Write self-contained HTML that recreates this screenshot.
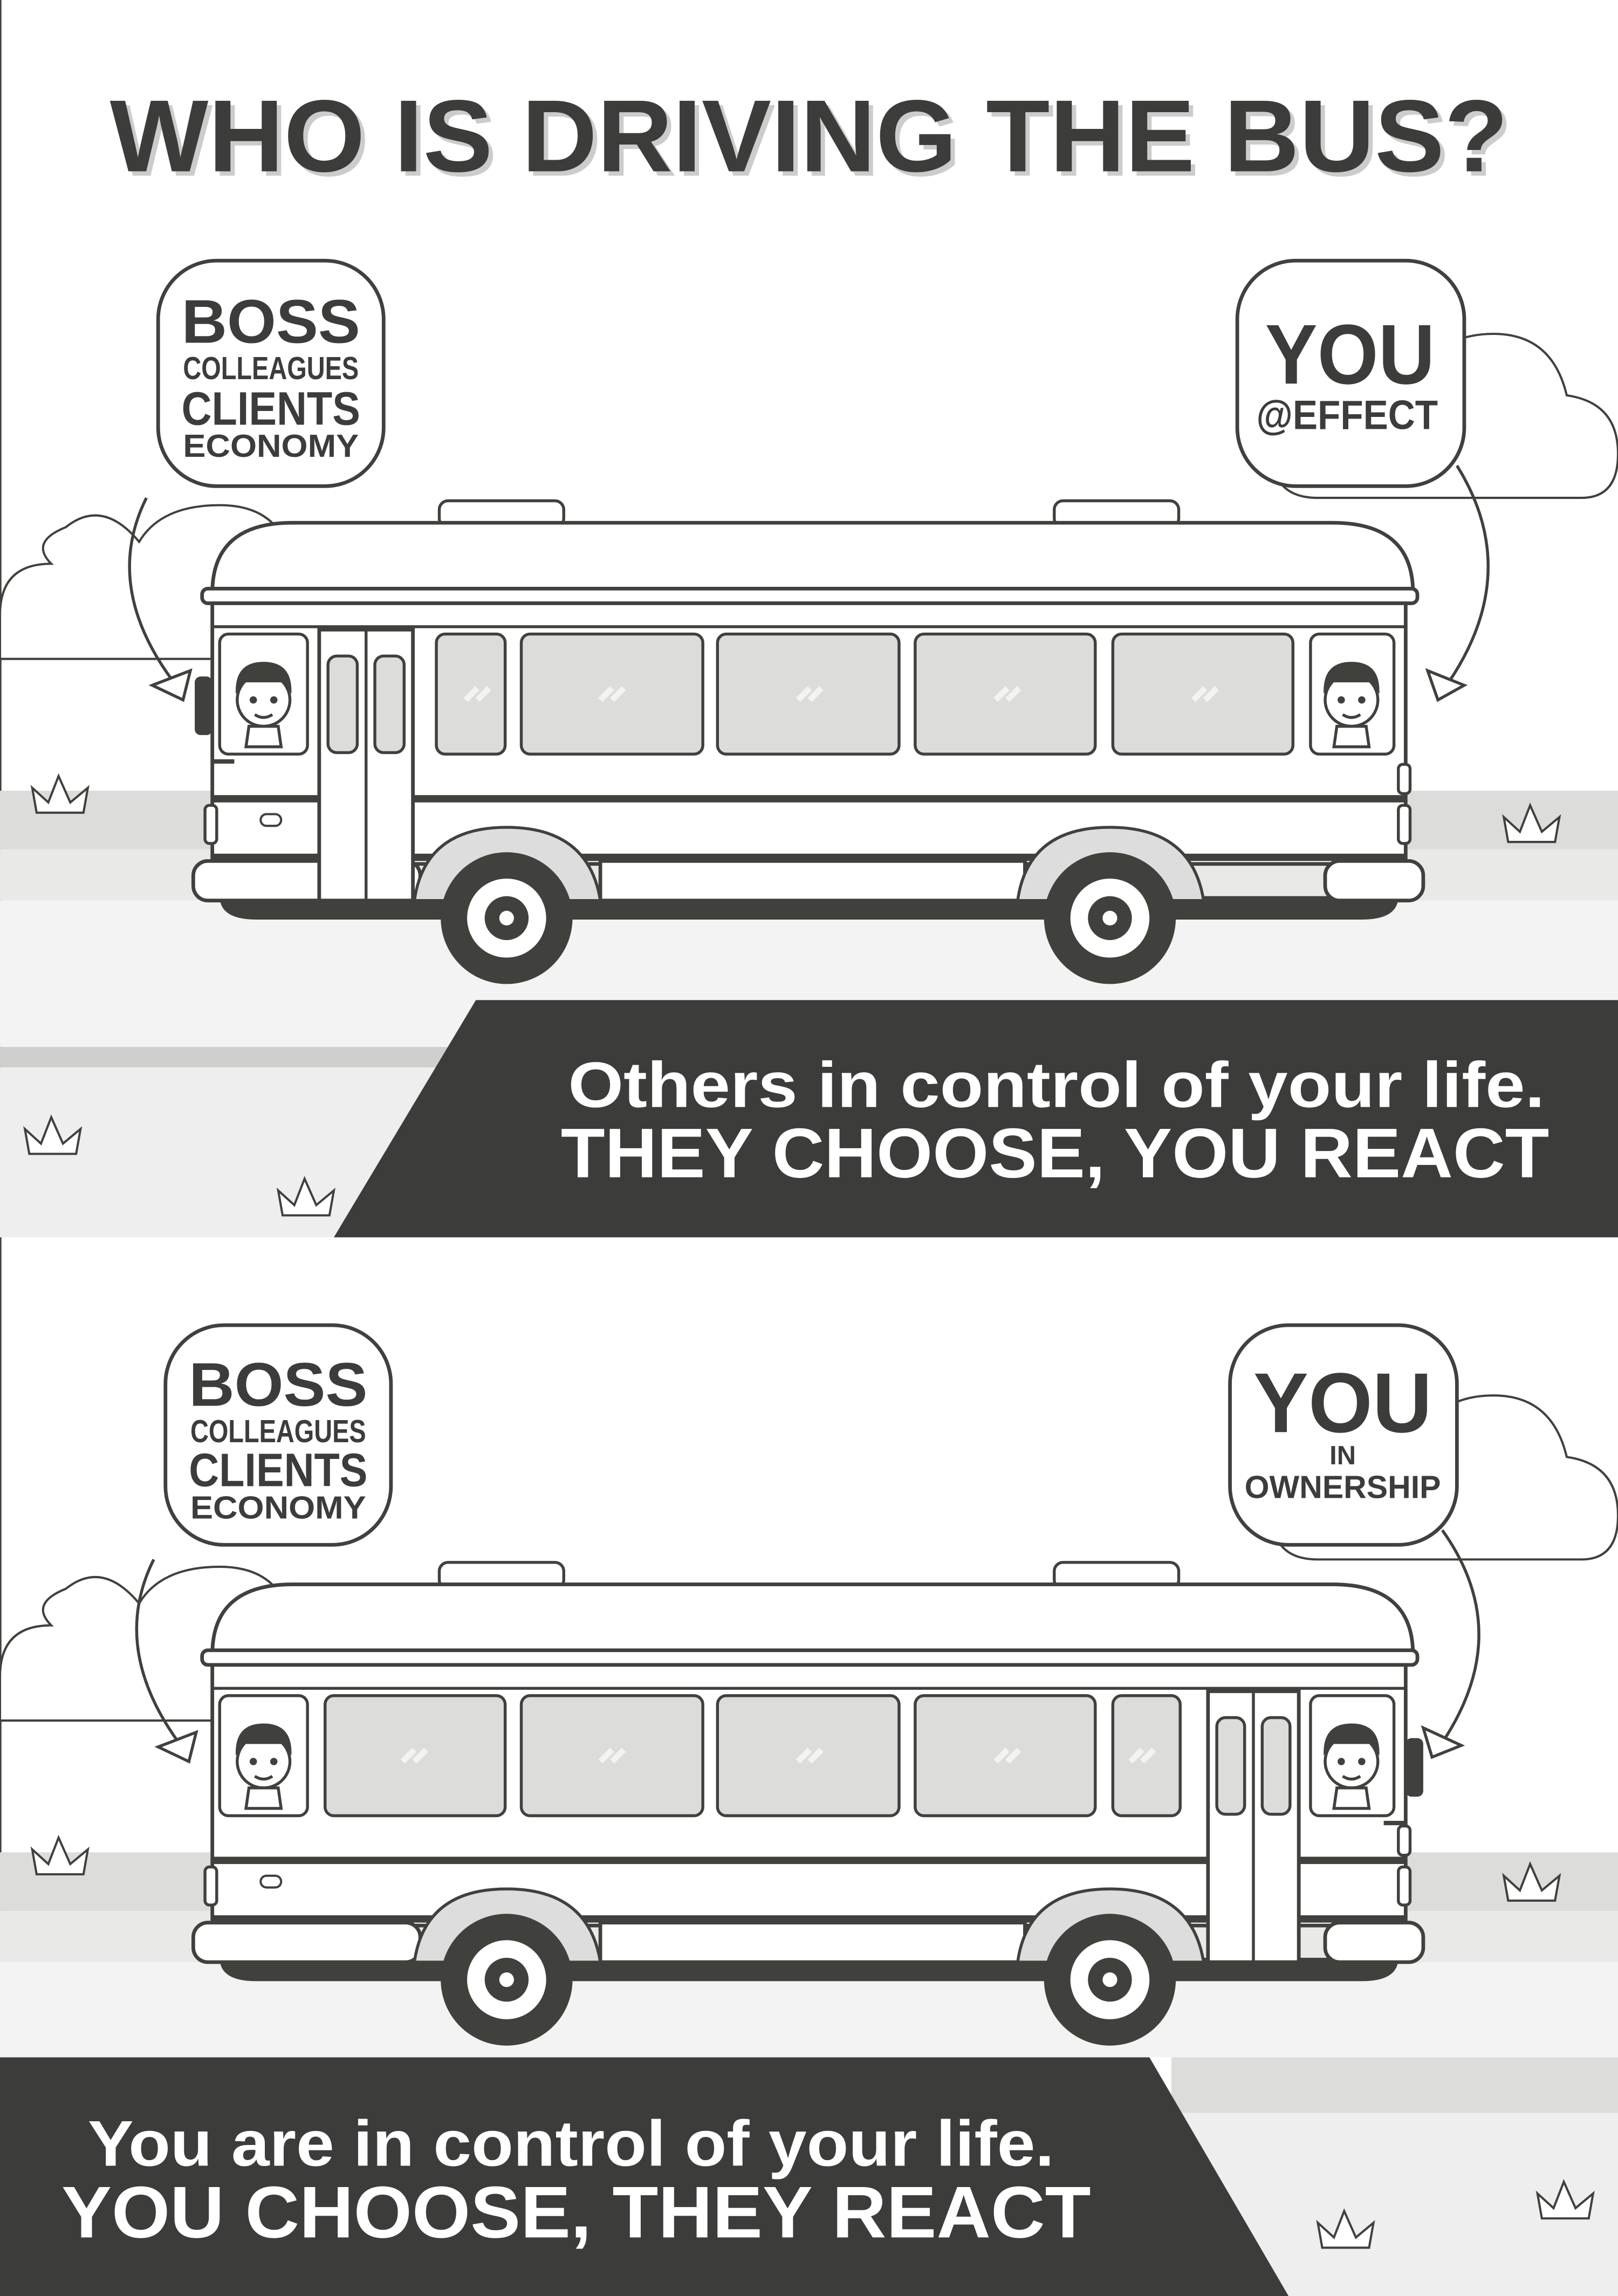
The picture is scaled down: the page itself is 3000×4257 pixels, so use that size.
<!DOCTYPE html>
<html><head><meta charset="utf-8"><style>html,body{margin:0;padding:0;background:#fff}svg{display:block}</style></head>
<body>
<svg width="3000" height="4257" viewBox="0 0 1105 1568" xmlns="http://www.w3.org/2000/svg" font-family="Liberation Sans, sans-serif">
<defs>
<g id="bus">
  <rect x="300" y="342" width="85" height="18" rx="6" fill="#fff" stroke="#40413c" stroke-width="2"/>
  <rect x="720" y="342" width="85" height="18" rx="6" fill="#fff" stroke="#40413c" stroke-width="2"/>
  <path d="M145 405 Q145 357 200 357 L910 357 Q965 357 965 405 Z" fill="#fff" stroke="#40413c" stroke-width="2.5"/>
  <rect x="138" y="402" width="830" height="10" rx="4" fill="#fff" stroke="#40413c" stroke-width="2.5"/>
  <rect x="145" y="412" width="815" height="178" fill="#fff" stroke="#40413c" stroke-width="2.5"/>
  <line x1="145" y1="428" x2="960" y2="428" stroke="#40413c" stroke-width="2"/>
  <rect x="145" y="543" width="815" height="5" fill="#40413c"/>
  <rect x="145" y="583" width="815" height="5" fill="#40413c"/>
  <path d="M150 612 L955 612 Q955 628 930 628 L175 628 Q150 628 150 612 Z" fill="#40413c"/>
  <rect x="132" y="588" width="155" height="27" rx="10" fill="#fff" stroke="#40413c" stroke-width="2.5"/>
  <rect x="905" y="588" width="67" height="27" rx="10" fill="#fff" stroke="#40413c" stroke-width="2.5"/>
  <rect x="410" y="588" width="290" height="27" fill="#fff" stroke="#40413c" stroke-width="2.5"/>
  <path d="M283 615 Q290 565 346 565 Q402 565 410 615 Z" fill="#ddd" stroke="#40413c" stroke-width="2"/>
  <path d="M695 615 Q702 565 758 565 Q814 565 822 615 Z" fill="#ddd" stroke="#40413c" stroke-width="2"/>
  <g fill="#40413c"><circle cx="346" cy="627" r="45"/><circle cx="758" cy="627" r="45"/></g>
  <g fill="#fff"><circle cx="346" cy="627" r="27"/><circle cx="758" cy="627" r="27"/></g>
  <g fill="#40413c"><circle cx="346" cy="627" r="15"/><circle cx="758" cy="627" r="15"/></g>
  <g fill="#fff"><circle cx="346" cy="627" r="5"/><circle cx="758" cy="627" r="5"/></g>
  <rect x="178" y="556" width="14" height="8" rx="4" fill="#fff" stroke="#40413c" stroke-width="1.5"/>
  <rect x="140" y="550" width="8" height="26" rx="3" fill="#fff" stroke="#40413c" stroke-width="2"/>
  <rect x="955" y="522" width="8" height="20" rx="3" fill="#fff" stroke="#40413c" stroke-width="2"/>
  <rect x="955" y="550" width="8" height="26" rx="3" fill="#fff" stroke="#40413c" stroke-width="2"/>
</g>
<g id="face">
  <circle cx="0" cy="0" r="18" fill="#fff" stroke="#40413c" stroke-width="2"/>
  <path d="M-19 -4 Q-20 -26 0 -26 Q20 -26 19 -4 L14 -12 L-14 -12 Z" fill="#40413c"/>
  <circle cx="-7" cy="0" r="2.5" fill="#40413c"/><circle cx="7" cy="0" r="2.5" fill="#40413c"/>
  <path d="M-6 10 Q0 14 6 10" fill="none" stroke="#40413c" stroke-width="2"/>
  <path d="M-12 32 L-10 18 L10 18 L12 32 Z" fill="#fff" stroke="#40413c" stroke-width="2"/>
</g>
</defs>

<rect x="0" y="0" width="1105" height="1568" fill="#fff"/>
<line x1="0.5" y1="0" x2="0.5" y2="1568" stroke="#40413c" stroke-width="1"/>

<rect x="0" y="540" width="1105" height="40" fill="#dcdcdb"/>
<rect x="0" y="580" width="1105" height="35" fill="#e9e9e8"/>
<rect x="0" y="615" width="1105" height="100" fill="#f3f3f3"/>
<rect x="0" y="715" width="1105" height="14" fill="#cfcfce"/>
<rect x="0" y="729" width="1105" height="116" fill="#eeeeee"/>
<path d="M0 450 L200 450 Q230 450 230 420 Q230 390 200 390 Q195 345 150 345 Q110 345 95 370 Q70 340 45 360 Q20 370 35 385 Q0 385 0 420 Z" fill="#fff" stroke="#40413c" stroke-width="1.5"/>
<path d="M900 340 L1080 340 Q1105 340 1105 310 Q1105 275 1070 270 Q1060 228 1020 228 Q985 228 970 255 Q945 240 920 255 Q895 270 900 290 Q860 295 870 320 Q875 340 900 340 Z" fill="#fff" stroke="#40413c" stroke-width="1.5"/>

<text x="78" y="120" font-size="70" font-weight="bold" fill="#ccc" textLength="955" lengthAdjust="spacingAndGlyphs">WHO IS DRIVING THE BUS?</text>
<text x="75" y="117" font-size="70" font-weight="bold" fill="#3c3d3a" textLength="955" lengthAdjust="spacingAndGlyphs">WHO IS DRIVING THE BUS?</text>

<use href="#bus"/>
<g fill="#dcdcdb" stroke="#40413c" stroke-width="2">
  <rect x="150" y="433" width="60" height="82" rx="6" fill="#fff"/>
  <rect x="298" y="433" width="47" height="82" rx="6"/>
  <rect x="356" y="433" width="124" height="82" rx="6"/>
  <rect x="490" y="433" width="124" height="82" rx="6"/>
  <rect x="625" y="433" width="123" height="82" rx="6"/>
  <rect x="760" y="433" width="123" height="82" rx="6"/>
  <rect x="895" y="433" width="57" height="82" rx="6" fill="#fff"/>
</g>
<rect x="218" y="430" width="64" height="185" fill="#fff" stroke="#40413c" stroke-width="2.5"/>
<line x1="250" y1="430" x2="250" y2="615" stroke="#40413c" stroke-width="2"/>
<rect x="224" y="448" width="20" height="66" rx="6" fill="#dcdcdb" stroke="#40413c" stroke-width="2"/>
<rect x="256" y="448" width="20" height="66" rx="6" fill="#dcdcdb" stroke="#40413c" stroke-width="2"/>
<g stroke="#f4f4ee" stroke-width="4"><path d="M318 478 l8 -8 M326 478 l8 -8 M410 478 l8 -8 M418 478 l8 -8 M545 478 l8 -8 M553 478 l8 -8 M680 478 l8 -8 M688 478 l8 -8 M815 478 l8 -8 M823 478 l8 -8"/></g>
<rect x="133" y="462" width="12" height="40" rx="4" fill="#40413c"/>
<line x1="145" y1="520" x2="160" y2="520" stroke="#40413c" stroke-width="3"/>
<use href="#face" x="180" y="478"/>
<use href="#face" x="923" y="478"/>

<path d="M100 340 Q70 400 118 465" fill="none" stroke="#40413c" stroke-width="2"/>
<path d="M104 468 L130 458 L125 478 Z" fill="#fff" stroke="#40413c" stroke-width="2"/>
<rect x="108" y="178" width="154" height="154" rx="40" fill="#fff" stroke="#40413c" stroke-width="2.5"/>
<g fill="#3c3d3a" font-weight="bold" text-anchor="middle">
<text x="185" y="234" font-size="42" textLength="122" lengthAdjust="spacingAndGlyphs">BOSS</text>
<text x="185" y="259" font-size="22" textLength="120" lengthAdjust="spacingAndGlyphs">COLLEAGUES</text>
<text x="185" y="290" font-size="32" textLength="122" lengthAdjust="spacingAndGlyphs">CLIENTS</text>
<text x="185" y="312" font-size="22" textLength="120" lengthAdjust="spacingAndGlyphs">ECONOMY</text>
</g>
<path d="M995 318 Q1040 390 990 465" fill="none" stroke="#40413c" stroke-width="2"/>
<path d="M1000 468 L975 458 L982 478 Z" fill="#fff" stroke="#40413c" stroke-width="2"/>
<rect x="845" y="178" width="155" height="154" rx="40" fill="#fff" stroke="#40413c" stroke-width="2.5"/>
<g fill="#3c3d3a" font-weight="bold" text-anchor="middle">
<text x="922" y="262" font-size="58" textLength="116" lengthAdjust="spacingAndGlyphs">YOU</text>
<text x="920" y="293" font-size="28" textLength="124" lengthAdjust="spacingAndGlyphs">@EFFECT</text>
</g>

<g fill="#fff" stroke="#40413c" stroke-width="1.5">
<path d="M25 555 L22 538 L33 548 L40 530 L48 548 L60 538 L57 555 Z"/>
<path d="M1030 575 L1027 558 L1038 568 L1045 550 L1053 568 L1065 558 L1062 575 Z"/>
<path d="M20 788 L17 771 L28 781 L35 763 L43 781 L55 771 L52 788 Z"/>
<path d="M193 830 L190 813 L201 823 L208 805 L216 823 L228 813 L225 830 Z"/>
</g>

<polygon points="325,683 1105,683 1105,845 228,845" fill="#3c3d3a"/>
<text x="388" y="756" font-size="44" font-weight="bold" fill="#fff" textLength="667" lengthAdjust="spacingAndGlyphs">Others in control of your life.</text>
<text x="383" y="804" font-size="48" font-weight="bold" fill="#fff" textLength="675" lengthAdjust="spacingAndGlyphs">THEY CHOOSE, YOU REACT</text>

<rect x="0" y="1265" width="1105" height="40" fill="#dcdcdb"/>
<rect x="0" y="1305" width="1105" height="35" fill="#e9e9e8"/>
<rect x="0" y="1340" width="1105" height="65" fill="#f3f3f3"/>
<rect x="800" y="1405" width="305" height="38" fill="#dcdcdb"/>
<rect x="800" y="1443" width="305" height="125" fill="#eeeeee"/>
<path d="M0 1175 L200 1175 Q230 1175 230 1145 Q230 1115 200 1115 Q195 1070 150 1070 Q110 1070 95 1095 Q70 1065 45 1085 Q20 1095 35 1110 Q0 1110 0 1145 Z" fill="#fff" stroke="#40413c" stroke-width="1.5"/>
<path d="M900 1065 L1080 1065 Q1105 1065 1105 1035 Q1105 1000 1070 995 Q1060 953 1020 953 Q985 953 970 980 Q945 965 920 980 Q895 995 900 1015 Q860 1020 870 1045 Q875 1065 900 1065 Z" fill="#fff" stroke="#40413c" stroke-width="1.5"/>

<g transform="translate(0,725)">
<use href="#bus"/>
<g fill="#dcdcdb" stroke="#40413c" stroke-width="2">
  <rect x="150" y="433" width="60" height="82" rx="6" fill="#fff"/>
  <rect x="222" y="433" width="123" height="82" rx="6"/>
  <rect x="356" y="433" width="124" height="82" rx="6"/>
  <rect x="490" y="433" width="124" height="82" rx="6"/>
  <rect x="625" y="433" width="123" height="82" rx="6"/>
  <rect x="760" y="433" width="46" height="82" rx="6"/>
  <rect x="895" y="433" width="57" height="82" rx="6" fill="#fff"/>
</g>
<rect x="825" y="430" width="62" height="185" fill="#fff" stroke="#40413c" stroke-width="2.5"/>
<line x1="856" y1="430" x2="856" y2="615" stroke="#40413c" stroke-width="2"/>
<rect x="831" y="448" width="19" height="66" rx="6" fill="#dcdcdb" stroke="#40413c" stroke-width="2"/>
<rect x="862" y="448" width="19" height="66" rx="6" fill="#dcdcdb" stroke="#40413c" stroke-width="2"/>
<g stroke="#f4f4ee" stroke-width="4"><path d="M275 478 l8 -8 M283 478 l8 -8 M410 478 l8 -8 M418 478 l8 -8 M545 478 l8 -8 M553 478 l8 -8 M680 478 l8 -8 M688 478 l8 -8 M772 478 l8 -8 M780 478 l8 -8"/></g>
<rect x="960" y="462" width="12" height="40" rx="4" fill="#40413c"/>
<line x1="945" y1="520" x2="960" y2="520" stroke="#40413c" stroke-width="3"/>
<use href="#face" x="180" y="478"/>
<use href="#face" x="923" y="478"/>
</g>

<path d="M105 1065 Q75 1125 122 1190" fill="none" stroke="#40413c" stroke-width="2"/>
<path d="M108 1193 L134 1183 L129 1203 Z" fill="#fff" stroke="#40413c" stroke-width="2"/>
<rect x="113" y="905" width="154" height="150" rx="40" fill="#fff" stroke="#40413c" stroke-width="2.5"/>
<g fill="#3c3d3a" font-weight="bold" text-anchor="middle">
<text x="190" y="960" font-size="42" textLength="122" lengthAdjust="spacingAndGlyphs">BOSS</text>
<text x="190" y="985" font-size="22" textLength="120" lengthAdjust="spacingAndGlyphs">COLLEAGUES</text>
<text x="190" y="1015" font-size="32" textLength="122" lengthAdjust="spacingAndGlyphs">CLIENTS</text>
<text x="190" y="1037" font-size="22" textLength="120" lengthAdjust="spacingAndGlyphs">ECONOMY</text>
</g>
<path d="M985 1045 Q1035 1115 985 1190" fill="none" stroke="#40413c" stroke-width="2"/>
<path d="M998 1192 L972 1180 L978 1200 Z" fill="#fff" stroke="#40413c" stroke-width="2"/>
<rect x="840" y="905" width="155" height="150" rx="40" fill="#fff" stroke="#40413c" stroke-width="2.5"/>
<g fill="#3c3d3a" font-weight="bold" text-anchor="middle">
<text x="917" y="978" font-size="58" textLength="122" lengthAdjust="spacingAndGlyphs">YOU</text>
<text x="917" y="1000" font-size="18">IN</text>
<text x="917" y="1023" font-size="22" textLength="134" lengthAdjust="spacingAndGlyphs">OWNERSHIP</text>
</g>

<g fill="#fff" stroke="#40413c" stroke-width="1.5">
<path d="M25 1280 L22 1263 L33 1273 L40 1255 L48 1273 L60 1263 L57 1280 Z"/>
<path d="M1030 1298 L1027 1281 L1038 1291 L1045 1273 L1053 1291 L1065 1281 L1062 1298 Z"/>
<path d="M903 1535 L900 1518 L911 1528 L918 1510 L926 1528 L938 1518 L935 1535 Z"/>
<path d="M1053 1515 L1050 1498 L1061 1508 L1068 1490 L1076 1508 L1088 1498 L1085 1515 Z"/>
</g>

<polygon points="0,1405 785,1405 880,1568 0,1568" fill="#3c3d3a"/>
<text x="60" y="1479" font-size="44" font-weight="bold" fill="#fff" textLength="660" lengthAdjust="spacingAndGlyphs">You are in control of your life.</text>
<text x="42" y="1528" font-size="50" font-weight="bold" fill="#fff" textLength="703" lengthAdjust="spacingAndGlyphs">YOU CHOOSE, THEY REACT</text>
</svg>
</body></html>
